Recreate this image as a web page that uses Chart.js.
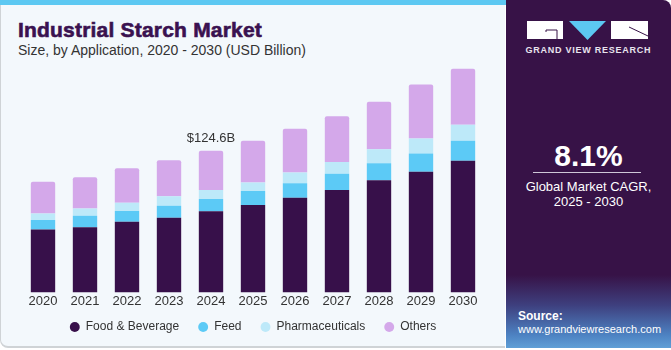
<!DOCTYPE html>
<html>
<head>
<meta charset="utf-8">
<script src="https://cdn.jsdelivr.net/npm/chart.js@4.4.1/dist/chart.umd.min.js"></script>
<style>
  html, body { margin:0; padding:0; width:671px; height:350px; overflow:hidden; background:#ffffff; font-family:"Liberation Sans", Arial, sans-serif; }
  #left { position:absolute; left:0; top:0; width:505px; height:348px; background:#f3f8fc; border-left:1px solid #cfd3d6; border-bottom:2px solid #cfd3d6; border-bottom-left-radius:8px; box-sizing:border-box; }
  #strip { position:absolute; left:0; top:0; width:506px; height:5px; background:#5cc8f2; }
  #title { position:absolute; left:18px; top:18px; font-size:21px; font-weight:900; color:#3a1250; font-family:"Liberation Sans", Arial, sans-serif; -webkit-text-stroke:0.6px #3a1250; letter-spacing:0.2px; }
  #sub { position:absolute; left:18px; top:42px; font-size:14px; color:#333; }
  #wrap { position:absolute; left:0; top:0; width:506px; height:351px; }
  #right { position:absolute; left:506px; top:0; width:165px; height:348px; border-top-right-radius:8px;
    background:linear-gradient(to bottom, #371247 0px, #371247 275px, #3e3f7e 305px, #4d82c2 335px, #5f9fd6 348px); }
  .w { position:absolute; color:#fff; text-align:center; width:165px; left:0; }
</style>
</head>
<body>
<div id="left"></div>
<div id="strip"></div>
<div id="title">Industrial Starch Market</div>
<div id="sub">Size, by Application, 2020 - 2030 (USD Billion)</div>
<div id="wrap"><canvas id="c" width="506" height="351"></canvas></div>
<div id="right">
  <svg style="position:absolute;left:0;top:0" width="165" height="60">
    <rect x="21" y="21" width="36" height="18" fill="#ffffff"/>
    <path d="M40 32 L40 30 L51 30 L51 39" stroke="#371247" stroke-width="1" fill="none"/>
    <polygon points="63,21 100,21 81.5,40" fill="#5cc8f2"/>
    <rect x="105" y="21" width="37" height="18" fill="#ffffff"/>
    <path d="M123 27 L142 36" stroke="#371247" stroke-width="1" fill="none"/>
  </svg>
  <div class="w" style="top:45px;font-size:9px;font-weight:bold;letter-spacing:0.75px;color:#e8e4ee;">GRAND VIEW RESEARCH</div>
  <div class="w" style="top:139px;font-size:30px;font-weight:bold;">8.1%</div>
  <div style="position:absolute;left:27px;top:172px;width:108px;height:1px;background:#cfc7d8;"></div>
  <div class="w" style="top:179px;font-size:13px;line-height:15px;">Global Market CAGR,<br>2025 - 2030</div>
  <div style="position:absolute;left:12px;top:309px;color:#fff;font-size:12px;font-weight:bold;">Source:</div>
  <div style="position:absolute;left:12px;top:323px;color:#fff;font-size:11px;">www.grandviewresearch.com</div>
</div>
<script>
const years = ["2020","2021","2022","2023","2024","2025","2026","2027","2028","2029","2030"];
const foodBeverage   = [55.4, 57.4, 62.2, 65.7, 71.3, 76.8, 83.3, 90.0, 98.7, 106.1, 115.8];
const feed           = [8.2, 10.0, 9.3, 10.6, 10.8, 12.3, 12.8, 14.4, 14.9, 16.1, 17.6];
const pharmaceuticals= [5.9, 6.4, 7.4, 8.2, 7.9, 7.6, 9.4, 10.2, 12.3, 13.2, 14.1];
const others         = [27.9, 27.5, 30.2, 31.7, 34.6, 36.7, 38.4, 40.4, 41.7, 47.5, 49.2];
const annotationIndex = 4;
const annotationText = "$124.6B";

const labelPlugin = {
  id: 'totLabel',
  afterDatasetsDraw(chart) {
    const ctx = chart.ctx;
    const meta = chart.getDatasetMeta(3);
    const el = meta.data[annotationIndex];
    ctx.save();
    ctx.font = '13px "Liberation Sans", Arial, sans-serif';
    ctx.fillStyle = '#333';
    ctx.textAlign = 'center';
    ctx.textBaseline = 'bottom';
    ctx.fillText(annotationText, el.x, el.y - 6);
    ctx.restore();
  }
};
const legendNudge = {
  id: 'legendNudge',
  afterLayout(chart) {
    const lg = chart.legend;
    if (lg) { lg.top -= 8; lg.bottom -= 8; }
  }
};

const common = { borderWidth: 0, barPercentage: 0.58, categoryPercentage: 1.0 };
new Chart(document.getElementById('c'), {
  type: 'bar',
  data: {
    labels: years,
    datasets: [
      Object.assign({ label: 'Food & Beverage', data: foodBeverage, backgroundColor: '#37104a' }, common),
      Object.assign({ label: 'Feed', data: feed, backgroundColor: '#5ccaf6' }, common),
      Object.assign({ label: 'Pharmaceuticals', data: pharmaceuticals, backgroundColor: '#bde9f9' }, common),
      Object.assign({ label: 'Others', data: others, backgroundColor: '#d4a8ea', borderRadius: {topLeft:2, topRight:2, bottomLeft:0, bottomRight:0}, borderSkipped: 'bottom' }, common)
    ]
  },
  options: {
    responsive: false,
    animation: false,
    layout: { padding: { left: 22, right: 22, top: 65, bottom: 0 } },
    plugins: {
      legend: {
        position: 'bottom',
        labels: {
          usePointStyle: true, pointStyle: 'circle', boxWidth: 10, boxHeight: 7,
          color: '#333', font: { size: 12, family: '"Liberation Sans", Arial, sans-serif' }, padding: 19
        }
      },
      tooltip: { enabled: false }
    },
    scales: {
      x: { stacked: true, grid: { display: false, drawTicks: false }, border: { display: false },
           ticks: { color: '#333', padding: 1, font: { size: 13, family: '"Liberation Sans", Arial, sans-serif' } } },
      y: { stacked: true, display: false, min: 0, max: 200 }
    }
  },
  plugins: [labelPlugin, legendNudge]
});
</script>
</body>
</html>
